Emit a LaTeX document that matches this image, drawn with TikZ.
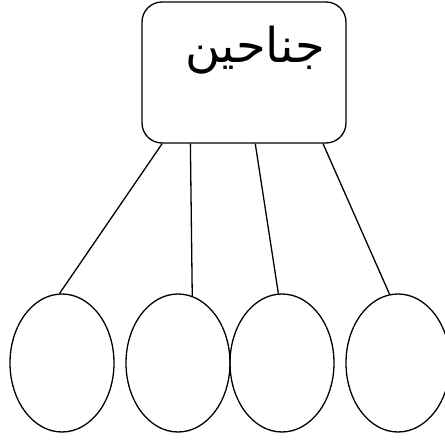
\documentclass[tikz,border=0pt]{standalone}
\usepackage{fontspec}
\usetikzlibrary{shapes.geometric}
\newfontfamily\arabicfont[Script=Arabic]{DejaVu Sans}
\TeXXeTstate=1
\begin{document}
\begin{tikzpicture}[x=1pt,y=-1pt,line width=1.3pt,
 wingbox/.style={shape=rectangle, rounded corners=20pt, draw, minimum width=204pt, minimum height=141pt, inner sep=0pt},
 leaf/.style={shape=ellipse, draw, minimum width=104pt, minimum height=138pt, inner sep=0pt}]

 \clip (0,0) rectangle (445,441);
 \useasboundingbox (0,0) rectangle (445,441);

 % top box
 \node (box) at (244,72.5) [wingbox] {};
 \node (title) at (255,50) {\fontsize{48}{56}\selectfont\arabicfont\beginR جناحين\endR};

 % bottom ellipses
 \node (e1) at (62,363) [leaf] {};
 \node (e2) at (178,363) [leaf] {};
 \node (e3) at (282,363) [leaf] {};
 \node (e4) at (398,363) [leaf] {};

 \draw (box.221) -- (e1.92);
 \draw (box.233.6) -- (e2.78);
 \draw (box.279.7) -- (e3.93);
 \draw (box.318.6) -- (e4.97);
\end{tikzpicture}
\end{document}
